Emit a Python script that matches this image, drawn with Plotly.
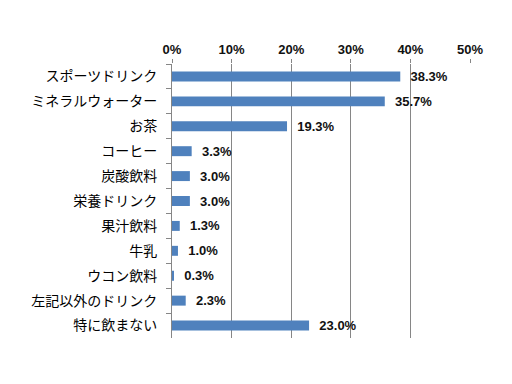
import plotly.graph_objects as go

categories = ["スポーツドリンク", "ミネラルウォーター", "お茶", "コーヒー", "炭酸飲料", "栄養ドリンク",
              "果汁飲料", "牛乳", "ウコン飲料", "左記以外のドリンク", "特に飲まない"]
values = [38.3, 35.7, 19.3, 3.3, 3.0, 3.0, 1.3, 1.0, 0.3, 2.3, 23.0]
x_ticks = [0, 10, 20, 30, 40, 50]
x_tick_labels = ["0%", "10%", "20%", "30%", "40%", "50%"]

fig = go.Figure(go.Bar(
    x=values, y=categories, orientation="h",
    marker=dict(color="#4F81BD", line=dict(width=0)),
    text=[f"{v:.1f}%" for v in values],
    texttemplate="  %{text}",
    textposition="outside", cliponaxis=False, constraintext="none",
    textfont=dict(family="Liberation Sans", size=13, color="#111111", weight="bold"),
))

# page body has an 8px default margin, so the figure is sized/offset to compensate
fig.update_layout(
    width=504, height=376,
    margin=dict(l=164, r=42, t=56, b=46, autoexpand=False),
    paper_bgcolor="white", plot_bgcolor="white",
    bargap=0.6, showlegend=False,
    font=dict(family="Noto Sans CJK JP", color="#000000"),
)
fig.update_xaxes(
    side="top", range=[0, 50], tickvals=x_ticks, ticktext=x_tick_labels,
    showgrid=True, gridcolor="#868686", gridwidth=1,
    zeroline=False, showline=False,
    ticks="outside", ticklen=4, tickcolor="#868686",
    tickfont=dict(family="Liberation Sans", size=13, color="#111111", weight="bold"),
)
fig.update_yaxes(
    autorange="reversed", tickson="boundaries",
    ticks="outside", ticklen=5, tickcolor="#868686",
    showline=True, linecolor="#868686", linewidth=1,
    showgrid=False, ticklabelstandoff=11,
    tickfont=dict(family="Noto Sans CJK JP", size=14, color="#000000"),
)

fig.write_html("out.html")
